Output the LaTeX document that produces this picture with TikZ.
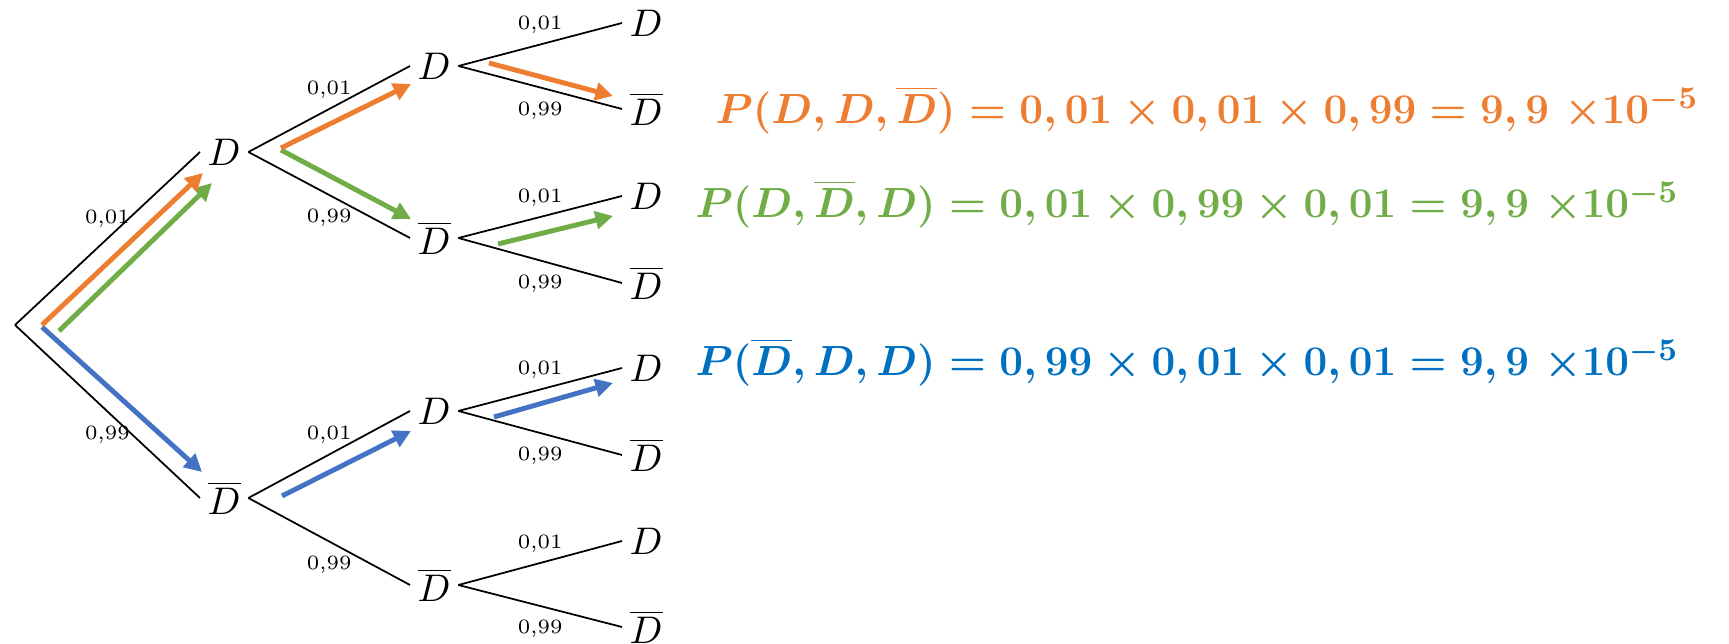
\documentclass[tikz,border=0pt]{standalone}
\usepackage{amsmath}
\usetikzlibrary{arrows.meta}

\definecolor{orangeF}{HTML}{ED7D31}
\definecolor{vertF}{HTML}{70AD47}
\definecolor{bleuF}{HTML}{4472C4}
\definecolor{bleuT}{HTML}{0070C0}

\newcommand{\foisdix}{\ \mathord{\times}10^{-5}}

\begin{document}
\begin{tikzpicture}[
  etat/.style={anchor=west,inner sep=2pt,font=\fontsize{11.25}{13}\selectfont},
  branche/.style={line width=0.5pt},
  haut/.style={midway,above=-0.5pt,font=\fontsize{5.8}{7}\selectfont},
  bas/.style={midway,below=0.4pt,font=\fontsize{5.8}{7}\selectfont},
  chemin/.style={line width=1.4pt,-{Triangle[length=5pt,width=5pt]}},
  formule/.style={anchor=west,inner sep=0pt,font=\fontsize{13}{16}\selectfont\boldmath}
]

\useasboundingbox
(0,0)
rectangle
(17.29,6.44);

% Racine
\coordinate (R) at (0.15,3.19);

% Premier tirage
\node[etat] (D1) at (2.00,4.92) {$D$};
\node[etat] (B1) at (2.00,1.46) {$\overline{D}$};

% Deuxieme tirage
\node[etat] (DD) at (4.10,5.78) {$D$};
\node[etat] (DB) at (4.10,4.06) {$\overline{D}$};
\node[etat] (BD) at (4.10,2.33) {$D$};
\node[etat] (BB) at (4.10,0.59) {$\overline{D}$};

% Troisieme tirage
\node[etat] (DDD) at (6.22,6.21) {$D$};
\node[etat] (DDB) at (6.22,5.35) {$\overline{D}$};
\node[etat] (DBD) at (6.22,4.48) {$D$};
\node[etat] (DBB) at (6.22,3.61) {$\overline{D}$};
\node[etat] (BDD) at (6.22,2.76) {$D$};
\node[etat] (BDB) at (6.22,1.89) {$\overline{D}$};
\node[etat] (BBD) at (6.22,1.03) {$D$};
\node[etat] (BBB) at (6.22,0.17) {$\overline{D}$};

% Branches
\draw[branche] (R) -- node[haut]{0,01} (D1.west);
\draw[branche] (R) -- node[bas]{0,99} (B1.west);

\draw[branche] (D1.east) -- node[haut]{0,01} (DD.west);
\draw[branche] (D1.east) -- node[bas]{0,99} (DB.west);
\draw[branche] (B1.east) -- node[haut]{0,01} (BD.west);
\draw[branche] (B1.east) -- node[bas]{0,99} (BB.west);

\draw[branche] (DD.east) -- node[haut]{0,01} (DDD.west);
\draw[branche] (DD.east) -- node[bas]{0,99} (DDB.west);
\draw[branche] (DB.east) -- node[haut]{0,01} (DBD.west);
\draw[branche] (DB.east) -- node[bas]{0,99} (DBB.west);
\draw[branche] (BD.east) -- node[haut]{0,01} (BDD.west);
\draw[branche] (BD.east) -- node[bas]{0,99} (BDB.west);
\draw[branche] (BB.east) -- node[haut]{0,01} (BBD.west);
\draw[branche] (BB.east) -- node[bas]{0,99} (BBB.west);

% Chemins
\coordinate (o0) at (0.42,3.19);
\coordinate (o1) at (2.03,4.71);
\coordinate (o2) at (2.81,4.96);
\coordinate (o3) at (4.11,5.60);
\coordinate (o4) at (4.89,5.81);
\coordinate (o5) at (6.13,5.48);

\coordinate (v0) at (0.59,3.13);
\coordinate (v1) at (2.12,4.61);
\coordinate (v2) at (2.81,4.94);
\coordinate (v3) at (4.11,4.25);
\coordinate (v4) at (4.98,4.00);
\coordinate (v5) at (6.13,4.28);

\coordinate (b0) at (0.42,3.17);
\coordinate (b1) at (2.02,1.72);
\coordinate (b2) at (2.82,1.48);
\coordinate (b3) at (4.11,2.13);
\coordinate (b4) at (4.94,2.27);
\coordinate (b5) at (6.13,2.61);

\draw[chemin,bleuF] (b0) -- (b1);
\draw[chemin,bleuF] (b2) -- (b3);
\draw[chemin,bleuF] (b4) -- (b5);

\draw[chemin,vertF] (v0) -- (v1);
\draw[chemin,vertF] (v2) -- (v3);
\draw[chemin,vertF] (v4) -- (v5);

\draw[chemin,orangeF] (o0) -- (o1);
\draw[chemin,orangeF] (o2) -- (o3);
\draw[chemin,orangeF] (o4) -- (o5);

% Probabilites
\node[formule,text=orangeF] (PO) at (7.15,5.34) {$P(D,D,\overline{D})=0,01\times0,01\times0,99=9,9\foisdix$};
\node[formule,text=vertF] (PV) at (6.95,4.40) {$P(D,\overline{D},D)=0,01\times0,99\times0,01=9,9\foisdix$};
\node[formule,text=bleuT] (PB) at (6.95,2.82) {$P(\overline{D},D,D)=0,99\times0,01\times0,01=9,9\foisdix$};

\end{tikzpicture}
\end{document}
